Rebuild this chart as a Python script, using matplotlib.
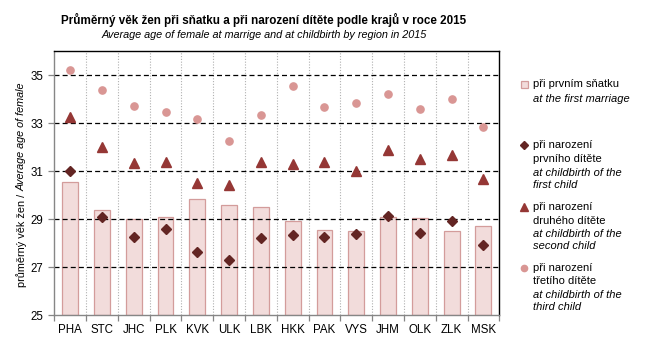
import matplotlib
matplotlib.use("Agg")
import matplotlib.pyplot as plt
from matplotlib.patches import Rectangle

plt.rcParams['font.family'] = ['Liberation Sans', 'DejaVu Sans']

regions = ["PHA", "STC", "JHC", "PLK", "KVK", "ULK", "LBK", "HKK",
           "PAK", "VYS", "JHM", "OLK", "ZLK", "MSK"]
first_marriage = [30.55, 29.4, 29.0, 29.1, 29.85, 29.6, 29.5, 28.92,
                  28.55, 28.5, 29.08, 29.05, 28.5, 28.72]
first_child = [31.0, 29.08, 28.25, 28.58, 27.65, 27.3, 28.21, 28.33,
               28.28, 28.37, 29.14, 28.42, 28.92, 27.92]
second_child = [33.27, 32.02, 31.36, 31.4, 30.5, 30.43, 31.4, 31.32,
                31.4, 31.03, 31.87, 31.5, 31.7, 30.7]
third_child = [35.2, 34.38, 33.72, 33.47, 33.18, 32.25, 33.33, 34.55,
               33.67, 33.84, 34.22, 33.58, 34.02, 32.83]
y_ticks = [25, 27, 29, 31, 33, 35]

BAR_FACE = "#F2DCDB"
BAR_EDGE = "#D39C9B"
C_FIRST = "#632523"
C_SECOND = "#953735"
C_THIRD = "#D99694"

W, H = 645, 344
fig = plt.figure(figsize=(W / 100, H / 100), dpi=100)
fig.patch.set_facecolor("white")

# plot area in pixel units
left, top, right, bottom = 54.3, 51.3, 499.3, 315.3
ax = fig.add_axes([left / W, 1 - bottom / H, (right - left) / W, (bottom - top) / H])

x = list(range(len(regions)))
ax.bar(x, [v - 25 for v in first_marriage], bottom=25, width=0.5,
       color=BAR_FACE, edgecolor=BAR_EDGE, linewidth=0.9, zorder=1)

for yv in y_ticks[1:]:
    ax.axhline(yv, color="black", linestyle=(0, (4, 2.5)), linewidth=0.9, zorder=2)
for xb in [i + 0.5 for i in range(len(regions) - 1)]:
    ax.axvline(xb, color="#B0B0B0", linestyle=(0, (1, 1.5)), linewidth=0.8, zorder=0)

ax.plot(x, third_child, linestyle="none", marker="o", markersize=5.2,
        color=C_THIRD, zorder=3)
ax.plot(x, second_child, linestyle="none", marker="^", markersize=6.5,
        color=C_SECOND, zorder=3)
ax.plot(x, first_child, linestyle="none", marker="D", markersize=4.6,
        color=C_FIRST, zorder=4)

ax.set_xlim(-0.5, len(regions) - 0.5)
ax.set_ylim(25, 36)
ax.set_yticks(y_ticks)
ax.set_yticklabels([str(v) for v in y_ticks], fontsize=8.3)
ax.set_xticks(x)
ax.set_xticklabels(regions, fontsize=8.3)
ax.set_xticks([i - 0.5 for i in range(len(regions) + 1)], minor=True)
ax.tick_params(axis="x", which="major", length=0, pad=6)
ax.tick_params(axis="x", which="minor", length=4, color="#868686", width=0.9)
ax.tick_params(axis="y", length=4, color="#868686", width=0.9, pad=4)

for side in ("left", "bottom"):
    ax.spines[side].set_color("#868686")
    ax.spines[side].set_linewidth(1.0)
for side in ("top", "right"):
    ax.spines[side].set_color("black")
    ax.spines[side].set_linewidth(1.0)

# titles
fig.text(264 / W, 1 - 20 / H, "Průměrný věk žen při sňatku a při narození dítěte podle krajů v roce 2015",
         ha="center", va="center", fontsize=8.4, fontweight="bold")
fig.text(264 / W, 1 - 35 / H, "Average age of female at marrige and at childbirth by region in 2015",
         ha="center", va="center", fontsize=7.8, style="italic")

# y-axis title, upright Czech part and italic English part
split_y = 1 - 191 / H
fig.text(22 / W, split_y, "průměrný věk žen / ", rotation=90, ha="center", va="top", fontsize=7.8)
fig.text(22 / W, split_y, "Average age of female", rotation=90, ha="center", va="bottom",
         fontsize=7.8, style="italic")

# legend on the right
lax = fig.add_axes([0, 0, 1, 1])
lax.set_xlim(0, W)
lax.set_ylim(H, 0)
lax.axis("off")
mx, tx = 524, 533
fs = 8
lax.add_patch(Rectangle((mx - 3.5, 84.3 - 3.5), 7, 7, facecolor=BAR_FACE, edgecolor=BAR_EDGE, linewidth=0.9))
lax.text(tx, 84.3, "při prvním sňatku", fontsize=fs, va="center")
lax.text(tx, 98.5, "at the first marriage", fontsize=fs, va="center", style="italic")

lax.plot([mx], [145], marker="D", markersize=4, color=C_FIRST)
lax.text(tx, 145, "při narození", fontsize=fs, va="center")
lax.text(tx, 159.5, "prvního dítěte", fontsize=fs, va="center")
lax.text(tx, 172.7, "at childbirth of the", fontsize=fs, va="center", style="italic")
lax.text(tx, 185, "first child", fontsize=fs, va="center", style="italic")

lax.plot([mx], [206.5], marker="^", markersize=5.5, color=C_SECOND)
lax.text(tx, 206.7, "při narození", fontsize=fs, va="center")
lax.text(tx, 221.5, "druhého dítěte", fontsize=fs, va="center")
lax.text(tx, 234, "at childbirth of the", fontsize=fs, va="center", style="italic")
lax.text(tx, 246, "second child", fontsize=fs, va="center", style="italic")

lax.plot([mx], [267.5], marker="o", markersize=4.5, color=C_THIRD)
lax.text(tx, 267.7, "při narození", fontsize=fs, va="center")
lax.text(tx, 281.5, "třetího dítěte", fontsize=fs, va="center")
lax.text(tx, 295, "at childbirth of the", fontsize=fs, va="center", style="italic")
lax.text(tx, 307, "third child", fontsize=fs, va="center", style="italic")

fig.savefig("out.png", dpi=100)
